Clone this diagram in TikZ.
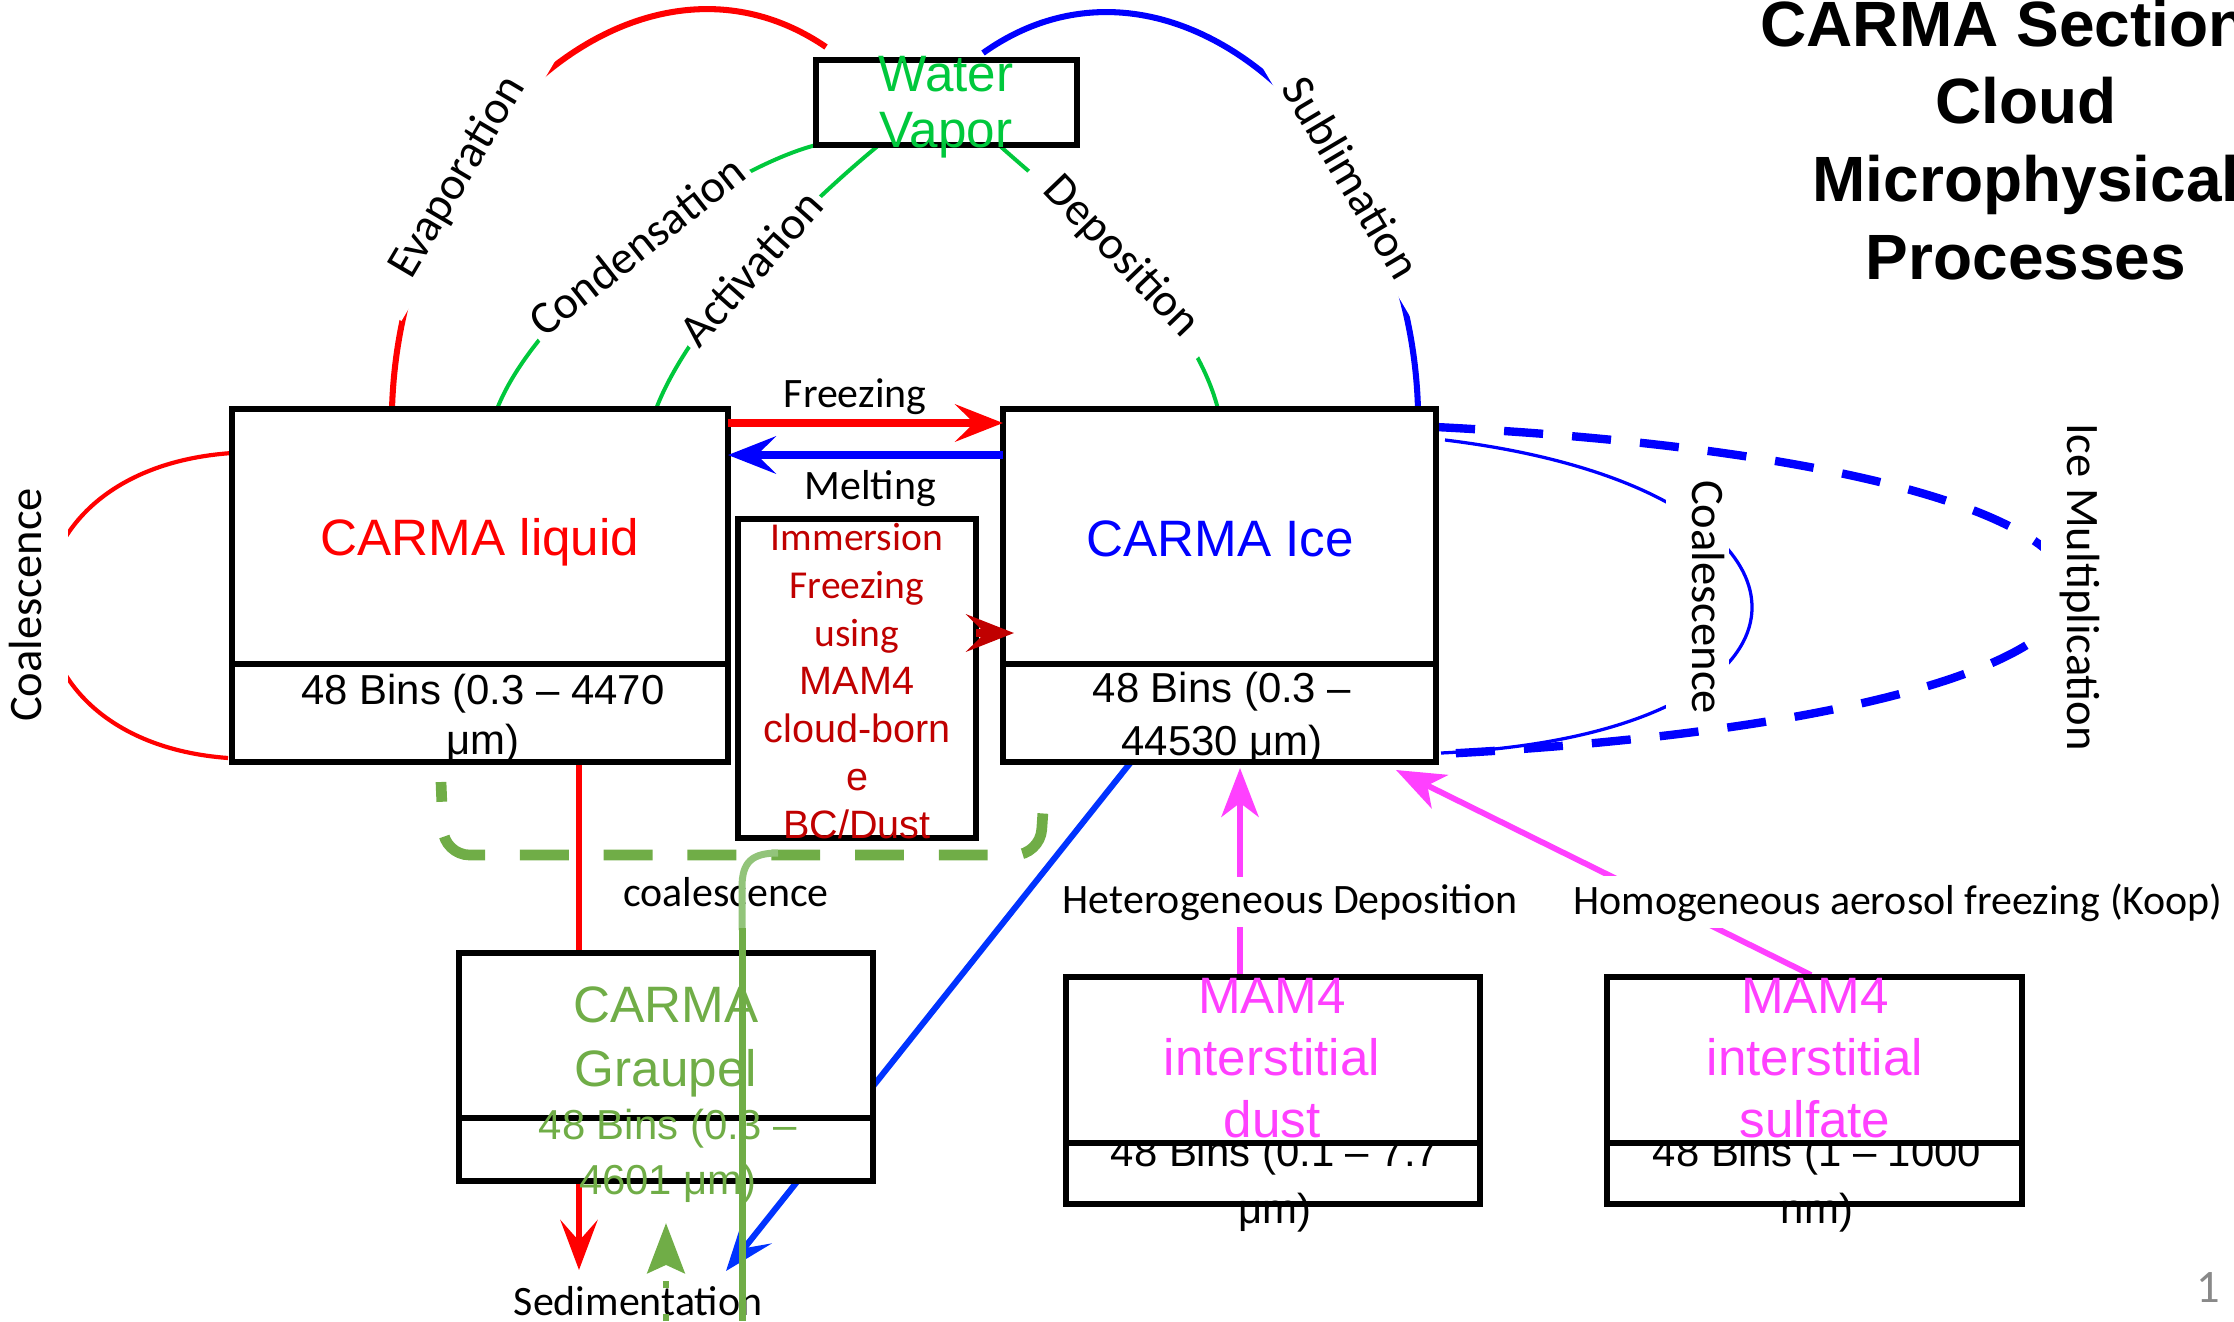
\documentclass[tikz,border=0pt]{standalone}
\usepackage{fontspec}
\setmainfont{Carlito}
\newfontfamily\arialfont{Liberation Sans}
\usepackage{xcolor}
\usetikzlibrary{arrows.meta,positioning,fit,backgrounds,calc}

\definecolor{vapgreen}{RGB}{0,200,60}
\definecolor{graugreen}{RGB}{112,173,71}
\definecolor{lightgrau}{RGB}{146,196,122}
\definecolor{immred}{RGB}{192,0,0}
\definecolor{aeropink}{RGB}{255,64,255}
\definecolor{sedblue}{RGB}{0,51,255}
\definecolor{pagegray}{RGB}{137,137,137}

\begin{document}
\begin{tikzpicture}[x=0.4297pt, y=-0.4297pt,
  box/.style      = {draw, line width=2.8pt, fill=white, inner sep=0pt, outer sep=0pt},
  nametxt/.style  = {font=\arialfont\fontsize{22}{27}\selectfont, align=center, inner sep=0pt},
  binstxt/.style  = {font=\arialfont\fontsize{18}{22.5}\selectfont, align=center, inner sep=0pt},
  lbl/.style      = {font=\fontsize{18}{22}\selectfont, text=black, inner sep=2pt},
  arclbl/.style   = {font=\fontsize{20}{24}\selectfont, text=black, sloped, fill=white, inner sep=2pt},
  sidelbl/.style  = {font=\fontsize{20}{24}\selectfont, fill=white, inner sep=2pt,
                     text depth=9pt, anchor=base},
  titletxt/.style = {font=\arialfont\bfseries\fontsize{27.5}{33.5}\selectfont, inner sep=0pt},
  thickarc/.style = {line width=2.6pt},
  thinarc/.style  = {line width=1.7pt},
  farr/.style     = {line width=3.2pt, -{Stealth[length=20.5pt, width=16pt, inset=8pt]}},
  sarr/.style     = {line width=2.6pt, -{Stealth[length=21.5pt, width=16pt, inset=9pt]}},
  parr/.style     = {aeropink, line width=2.5pt, -{Stealth[length=21pt, width=16pt, inset=6pt]}},
  multdash/.style = {blue, line width=3.6pt, dash pattern=on 16.8pt off 12.5pt},
  grpdash/.style  = {graugreen, line width=4.6pt, dash pattern=on 21pt off 15pt,
                     dash phase=12.5pt, rounded corners=11pt}
]
\useasboundingbox (0,0) rectangle (2234,1321);

% -- Title --
\node[titletxt, anchor=base west] (title1) at (1760,46) {CARMA Section};
\node[titletxt, align=center, anchor=north] (title) at (2026,77) {Cloud\\Microphysical\\Processes};

% -- Water vapor --
\node[box, fit={(816,60) (1077,145)}] (vapor) {};
\node[nametxt, text=vapgreen, font=\arialfont\fontsize{22}{24}\selectfont] (vaptxt) at (946,107) {Water\\Vapor};

% -- CARMA liquid --
\node[box, fit={(232,664) (728,762)}] (liqbins) {};
\node[binstxt, font=\arialfont\fontsize{18}{21.5}\selectfont] (liqbinstxt) at (483,719) {48 Bins (0.3 – 4470\\μm)};
\node[box, fit={(232,409) (728,664)}] (liquid) {};
\node[nametxt, text=red, anchor=base] (liqname) at (480,555) {CARMA liquid};

% -- CARMA ice --
\node[box, fit={(1003,664) (1436,762)}] (icebins) {};
\node[binstxt, font=\arialfont\fontsize{18}{22.8}\selectfont] (icebinstxt) at (1222,718) {48 Bins (0.3 –\\44530 μm)};
\node[box, fit={(1003,409) (1436,664)}] (ice) {};
\node[nametxt, text=blue, anchor=base] (icename) at (1220,556) {CARMA Ice};

% -- Immersion freezing --
\node[box, fit={(738,519) (976,838)}] (immersion) {};
\node[align=center, text=immred, font=\fontsize{17}{20.6}\selectfont, inner sep=0pt] (immtxt) at (857,681)
  {Immersion\\Freezing\\using\\{\arialfont MAM4}\\{\arialfont cloud-born}\\{\arialfont e}\\{\arialfont BC/Dust}};

% -- CARMA graupel --
\node[box, fit={(459,1118) (873,1181)}] (graubins) {};
\node[box, fit={(459,953) (873,1118)}] (graupel) {};
\node[nametxt, text=graugreen, font=\arialfont\fontsize{22}{27.5}\selectfont] (grauname) at (666,1042) {CARMA\\Graupel};
\node[binstxt, text=graugreen, font=\arialfont\fontsize{18}{23.6}\selectfont] (graubinstxt) at (668,1156) {48 Bins (0.3 –\\4601 μm)};

% -- MAM4 dust --
\node[box, fit={(1066,1143) (1480,1204)}] (dustbins) {};
\node[binstxt, font=\arialfont\fontsize{18}{24.5}\selectfont] (dustbinstxt) at (1275,1184) {48 Bins (0.1 – 7.7\\μm)};
\node[box, fit={(1066,977) (1480,1143)}] (dust) {};
\node[nametxt, text=aeropink, font=\arialfont\fontsize{22}{26.7}\selectfont] (dustname) at (1272,1058) {MAM4\\interstitial\\dust};

% -- MAM4 sulfate --
\node[box, fit={(1607,1143) (2022,1204)}] (sulfbins) {};
\node[binstxt, font=\arialfont\fontsize{18}{24.5}\selectfont] (sulfbinstxt) at (1817,1184) {48 Bins (1 – 1000\\nm)};
\node[box, fit={(1607,977) (2022,1143)}] (sulfate) {};
\node[nametxt, text=aeropink, font=\arialfont\fontsize{22}{26.7}\selectfont] (sulfname) at (1815,1058) {MAM4\\interstitial\\sulfate};

% -- Connectors behind the boxes --
\begin{scope}[on background layer]
  \draw[red, thickarc] ($(liquid.north west)+(160,0)$)
      .. controls +(8,-279) and +(-186,-127) .. ($(vapor.north west)+(10,-13)$)
      node[arclbl, inner xsep=17pt, pos=0.31] (evap) {Evaporation};
  \draw[blue, thickarc] ($(vapor.north east)+(-94,-7)$)
      .. controls +(187,-133) and +(-8,-279) .. ($(ice.north east)+(-18,0)$)
      node[arclbl, inner xsep=17pt, pos=0.69] (subl) {Sublimation};
  \draw[vapgreen, thinarc] ($(liquid.north west)+(265,0)$)
      .. controls +(43,-109) and +(-96,25) .. (vapor.south west)
      node[arclbl, pos=0.5] (cond) {Condensation};
  \draw[vapgreen, thinarc] ($(liquid.north west)+(424,0)$)
      .. controls +(34,-89) and +(-79,65) .. ($(vapor.south west)+(63,0)$)
      node[arclbl, pos=0.5] (activ) {Activation};
  \draw[vapgreen, thinarc] ($(vapor.south west)+(184,1)$)
      .. controls +(60,54) and +(-28,-109) .. ($(ice.north west)+(215,0)$)
      node[arclbl, inner xsep=10pt, pos=0.5] (depo) {Deposition};

  % coalescence loops and ice multiplication
  \draw[red, line width=1.8pt] ($(liquid.north west)+(0,44)$)
      .. controls +(-248,17) and +(-244,-18) .. ($(liqbins.south west)+(-4,-4)$);
  \node[sidelbl, rotate=90] (coalliq) at (42,605) {Coalescence};
  \draw[blue, line width=1.4pt] ($(ice.north east)+(9,31)$)
      .. controls +(410,50) and +(414,-20) .. ($(icebins.south east)+(5,-9)$);
  \node[sidelbl, rotate=-90] (coalice) at (1692,597) {Coalescence};
  \draw[multdash] ($(ice.north east)+(0,18)$)
      .. controls +(844,43) and +(839,-44) .. ($(icebins.south east)+(5,-8)$);
  \node[sidelbl, rotate=-90] (icemult) at (2067,587) {Ice Multiplication};

  % sedimentation
  \coordinate (sedR) at (579,1270);
  \coordinate (sedB) at (726,1271);
  \draw[red, sarr] ($(liqbins.south west)+(347,0)$) -- (sedR);
  \draw[sedblue, sarr] ($(icebins.south west)+(128,0)$) -- (sedB);

  % aerosol freezing
  \draw[parr] ($(dust.north west)+(174,0)$) -- ($(icebins.south west)+(237,6)$);
  \draw[parr] ($(sulfate.north west)+(204,-2)$) -- ($(icebins.south east)+(-40,8)$);
\end{scope}

% -- Phase changes between liquid and ice --
\draw[red, farr] ($(liquid.north east)+(0,14)$) -- node[lbl, above, xshift=-4.5pt] (frz) {Freezing} ($(ice.north west)+(0,14)$);
\draw[blue, farr] ($(ice.north west)+(0,46)$) -- node[lbl, below=3pt, xshift=2pt] (melt) {Melting} ($(liquid.north east)+(0,46)$);
\draw[immred, farr] ($(immersion.north east)+(0,114)$) -- ($(ice.north west)+(11,224)$);

\node[lbl, fill=white, inner sep=3pt, anchor=base] (hetdep) at (1290,913) {Heterogeneous Deposition};
\node[lbl, fill=white, inner sep=3pt, anchor=base] (homfrz) at (1898,914) {Homogeneous aerosol freezing (Koop)};

% -- Graupel coalescence --
\draw[grpdash] ($(liqbins.south west)+(209,20)$) -- ($(liqbins.south west)+(212,93)$)
    -- ($(icebins.south west)+(37,93)$) -- ($(icebins.south west)+(42,20)$);
\node[lbl, anchor=base] (coalgrau) at (726,906) {coalescence};
\node[lbl, anchor=base] (sedlbl) at (638,1315) {Sedimentation};

\coordinate (grnbot) at (742,1321);
\draw[lightgrau, line width=3pt] ($(liqbins.south west)+(546,91)$)
    .. controls +(-26,0) and +(0,-25) .. ($(liqbins.south west)+(510,125)$) -- ($(liqbins.south west)+(510,168)$);
\draw[graugreen, line width=3pt] ($(liqbins.south west)+(510,166)$) -- (grnbot);

\coordinate (sedG0) at (666,1321);
\coordinate (sedG) at (666,1223);
\draw[graugreen, line width=3pt, dash pattern=on 3pt off 11pt,
      -{Stealth[length=21.5pt, width=16pt, inset=3.5pt]}] (sedG0) -- (sedG);

\node[font=\fontsize{20}{24}\selectfont, text=pagegray, anchor=base, inner sep=0pt] (pagenum) at (2208,1302) {1};

\end{tikzpicture}
\end{document}
